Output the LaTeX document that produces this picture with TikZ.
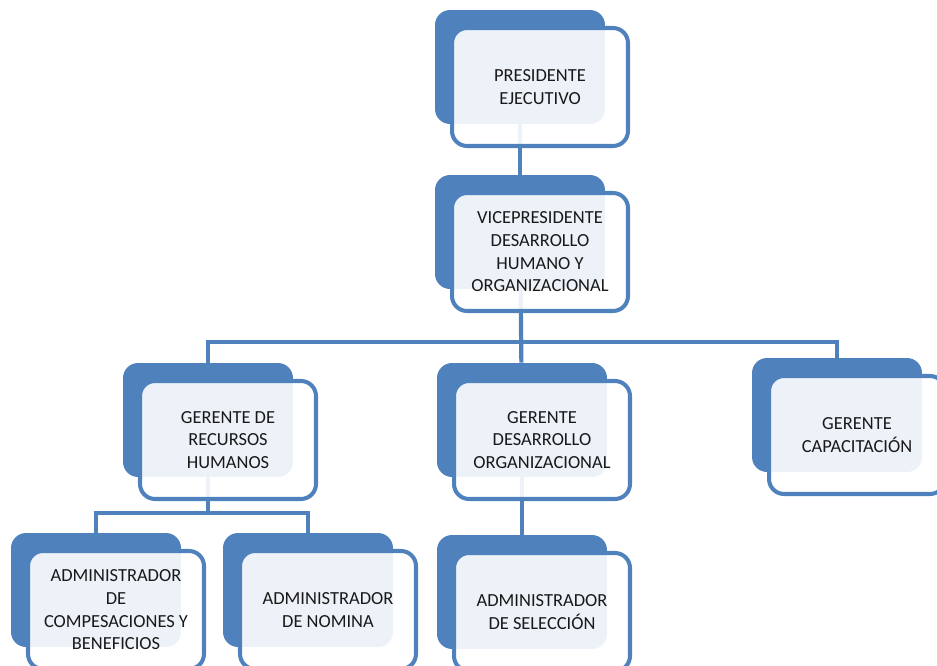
\documentclass[tikz,border=0pt]{standalone}
\usepackage{fontspec}
\setmainfont{Carlito}
\usetikzlibrary{calc,backgrounds}
\definecolor{orgblue}{HTML}{4F81BD}
% one card of the chart: solid blue card behind, white card in front
\newcommand\orgcard[3]{%
  \node[backcard] (#1b) at (#2) {};
  \node[frontcard] (#1) at ($(#1b)+(\cardshift,\cardshift)$) {#3};}
\begin{document}
\begin{tikzpicture}[x=0.02cm,y=-0.02cm]

      % The solid card sitting behind every box
      \tikzstyle{backcard}=[fill=orgblue, draw=none, rounded corners=0.3cm, minimum width=3.4cm, minimum height=2.28cm]
      % The white card in front, a little see-through so the blue shows as a tint
      \tikzstyle{frontcard}=[draw=orgblue, line width=2.3pt, fill=white, fill opacity=0.9, text opacity=1, rounded corners=0.3cm,
                             minimum width=3.52cm, minimum height=2.36cm, align=center, text=black!90,
                             font=\fontsize{10.5}{12.9}\selectfont]
      \tikzstyle{link}=[draw=orgblue, line width=2.4pt]

      \def\cardshift{20}     % Offset of the front card (pixels of the page)

      \useasboundingbox (0,0) rectangle (937,666);
      \clip (0,0) rectangle (937,666);

      \orgcard{pres}{520,67}{PRESIDENTE\\EJECUTIVO}
      \orgcard{vp}{520,232}{VICEPRESIDENTE\\DESARROLLO\\HUMANO Y\\ORGANIZACIONAL}
      \orgcard{rh}{208,420}{GERENTE DE\\RECURSOS\\HUMANOS}
      \orgcard{dorg}{522,420}{GERENTE\\DESARROLLO\\ORGANIZACIONAL}
      \orgcard{cap}{837,415}{GERENTE\\CAPACITACIÓN}
      \orgcard{comp}{96,590}{ADMINISTRADOR\\DE\\COMPESACIONES Y\\BENEFICIOS}
      \orgcard{nom}{308,590}{ADMINISTRADOR\\DE NOMINA}
      \orgcard{sel}{522,592}{ADMINISTRADOR\\DE SELECCIÓN}

      % The connectors go under the cards
      \begin{scope}[on background layer]
        \coordinate (busa) at (0,342);
        \coordinate (busb) at (0,513);
        \draw[link] (presb) -- (vpb);
        \draw[link] (vpb) -- (dorgb);
        \draw[link] (rhb) |- (capb |- busa) -- (capb);
        \draw[link] (dorgb) -- (selb);
        \draw[link] (rhb) -- (rhb |- busb);
        \draw[link] (compb) |- (nomb |- busb) -- (nomb);
      \end{scope}

   \end{tikzpicture}
\end{document}
